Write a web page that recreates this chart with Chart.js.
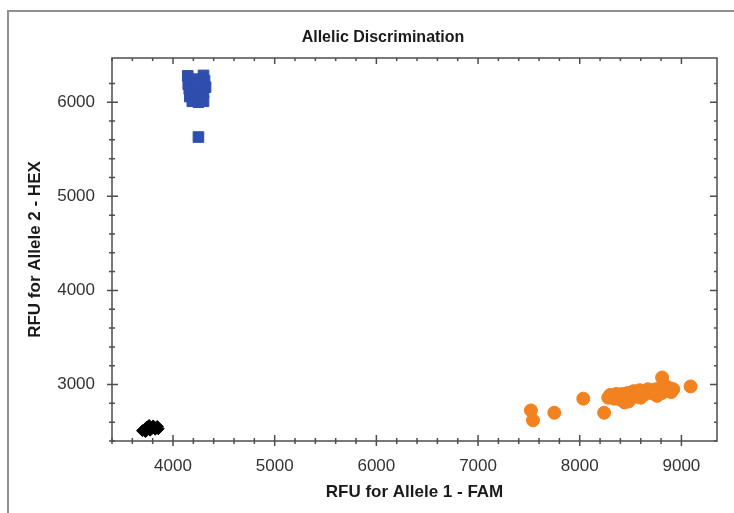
<!DOCTYPE html>
<html>
<head>
<meta charset="utf-8">
<script src="https://cdn.jsdelivr.net/npm/chart.js@4.4.0/dist/chart.umd.min.js"></script>
<style>
  html, body { margin: 0; padding: 0; background: #fff; overflow: hidden; }
  #frame { position: absolute; left: 7px; top: 10px; width: 800px; height: 600px;
           border-left: 2px solid #909090; border-top: 2px solid #909090; }
  #chart { position: absolute; left: 0; top: 0; }
</style>
</head>
<body>
<div id="frame"></div>
<canvas id="chart" width="734" height="513"></canvas>
<script>
const chartTitle = 'Allelic Discrimination';
const xTitle = 'RFU for Allele 1 - FAM';
const yTitle = 'RFU for Allele 2 - HEX';

// axis ranges and tick steps
const xLimits = [3400, 9350];
const yLimits = [2400, 6470];
const minorStep = 200;
const majorStep = 1000;

// Allele 2 (HEX) cluster - blue squares
const hexX = [4145, 4300, 4175, 4250, 4310, 4150, 4210, 4270, 4320, 4160, 4220, 4290,
              4180, 4240, 4300, 4165, 4220, 4280, 4190, 4250, 4300, 4200, 4240, 4250];
const hexY = [6280, 6285, 6240, 6245, 6230, 6190, 6200, 6190, 6160, 6140, 6150, 6130,
              6100, 6090, 6100, 6060, 6050, 6040, 6010, 6000, 6010, 6120, 6170, 5630];

// Allele 1 (FAM) cluster - orange circles
const famX = [7520, 7540, 7750, 8035, 8240, 8810, 9090,
              8280, 8300, 8340, 8380, 8400, 8420, 8440, 8450, 8470, 8490, 8510, 8530,
              8550, 8570, 8590, 8610, 8630, 8650, 8670, 8690, 8710, 8730, 8750, 8770,
              8790, 8810, 8830, 8850, 8870, 8890, 8900, 8920, 8760, 8600, 8480, 8360];
const famY = [2725, 2620, 2700, 2850, 2700, 3075, 2980,
              2860, 2890, 2850, 2880, 2840, 2900, 2810, 2870, 2910, 2850, 2900, 2930,
              2870, 2910, 2940, 2890, 2930, 2900, 2950, 2920, 2940, 2900, 2950, 2930,
              2960, 2910, 2950, 2980, 2940, 2960, 2920, 2950, 2880, 2860, 2820, 2900];

// no template controls - black diamonds
const ntcX = [3700, 3730, 3740, 3765, 3775, 3795, 3805, 3825, 3845, 3855];
const ntcY = [2510, 2500, 2545, 2565, 2515, 2535, 2560, 2525, 2555, 2530];

const toPoints = (xs, ys) => xs.map((v, i) => ({ x: v, y: ys[i] }));

const fontName = '"Liberation Sans", Arial, sans-serif';
const lineColor = '#4d4d4d';

// box round the plot with crossing ticks on left/bottom, inner ticks on top/right
const axisBox = {
  id: 'axisBox',
  beforeDatasetsDraw(chart) {
    const { ctx, chartArea: a, scales: { x, y } } = chart;
    ctx.save();
    ctx.strokeStyle = lineColor;
    ctx.lineWidth = 1.5;
    ctx.strokeRect(a.left, a.top, a.right - a.left, a.bottom - a.top);
    ctx.beginPath();
    x.ticks.forEach(t => {
      if (t.value % minorStep) return;
      const px = x.getPixelForValue(t.value);
      const major = t.value % majorStep === 0;
      ctx.moveTo(px, a.bottom + (major ? 5 : 3));
      ctx.lineTo(px, a.bottom - (major ? 6 : 3));
      ctx.moveTo(px, a.top);
      ctx.lineTo(px, a.top + (major ? 6 : 3));
    });
    y.ticks.forEach(t => {
      if (t.value % minorStep) return;
      const py = y.getPixelForValue(t.value);
      const major = t.value % majorStep === 0;
      ctx.moveTo(a.left - (major ? 5 : 3), py);
      ctx.lineTo(a.left + (major ? 6 : 3), py);
      ctx.moveTo(a.right, py);
      ctx.lineTo(a.right - (major ? 7 : 3), py);
    });
    ctx.stroke();
    ctx.restore();
  },
  afterDraw(chart) {
    const { ctx } = chart;
    ctx.save();
    ctx.font = 'bold 16px ' + fontName;
    ctx.fillStyle = '#1a1a1a';
    ctx.textAlign = 'center';
    ctx.textBaseline = 'middle';
    ctx.fillText(chartTitle, 383, 38);
    ctx.restore();
  }
};

const tickLabel = v => (v % majorStep === 0 ? String(v) : '');

new Chart(document.getElementById('chart'), {
  type: 'scatter',
  data: {
    datasets: [{
      label: 'Allele 2',
      data: toPoints(hexX, hexY),
      pointStyle: 'rect',
      pointRadius: 7.5,
      backgroundColor: '#2f4eae',
      borderColor: '#2f4eae',
      borderWidth: 1
    }, {
      label: 'Allele 1',
      data: toPoints(famX, famY),
      pointStyle: 'circle',
      pointRadius: 6.5,
      backgroundColor: '#f28220',
      borderColor: '#f28220',
      borderWidth: 1
    }, {
      label: 'NTC',
      data: toPoints(ntcX, ntcY),
      pointStyle: 'rectRot',
      pointRadius: 6,
      backgroundColor: '#000',
      borderColor: '#000',
      borderWidth: 1
    }]
  },
  options: {
    responsive: false,
    animation: false,
    devicePixelRatio: 1,
    layout: { padding: { top: 58, right: 17, left: 0, bottom: 0 } },
    plugins: {
      legend: { display: false },
      tooltip: { enabled: false }
    },
    scales: {
      x: {
        type: 'linear',
        min: xLimits[0],
        max: xLimits[1],
        grid: { display: false, drawTicks: false },
        border: { display: false },
        ticks: {
          stepSize: minorStep,
          autoSkip: false,
          maxRotation: 0,
          padding: 15,
          color: '#333',
          font: { family: fontName, size: 17 },
          callback: tickLabel
        },
        title: {
          display: true,
          text: xTitle,
          color: '#1a1a1a',
          font: { family: fontName, size: 17, weight: 'bold' },
          padding: { top: 0, bottom: 10 }
        },
        afterFit: s => { s.height = 72; }
      },
      y: {
        type: 'linear',
        min: yLimits[0],
        max: yLimits[1],
        grid: { display: false, drawTicks: false },
        border: { display: false },
        ticks: {
          stepSize: minorStep,
          autoSkip: false,
          padding: 17,
          color: '#333',
          font: { family: fontName, size: 17 },
          callback: tickLabel
        },
        title: {
          display: true,
          text: yTitle,
          color: '#1a1a1a',
          font: { family: fontName, size: 17, weight: 'bold' },
          padding: { top: 25, bottom: 0 }
        },
        afterFit: s => { s.width = 112; }
      }
    }
  },
  plugins: [axisBox]
});
</script>
</body>
</html>
